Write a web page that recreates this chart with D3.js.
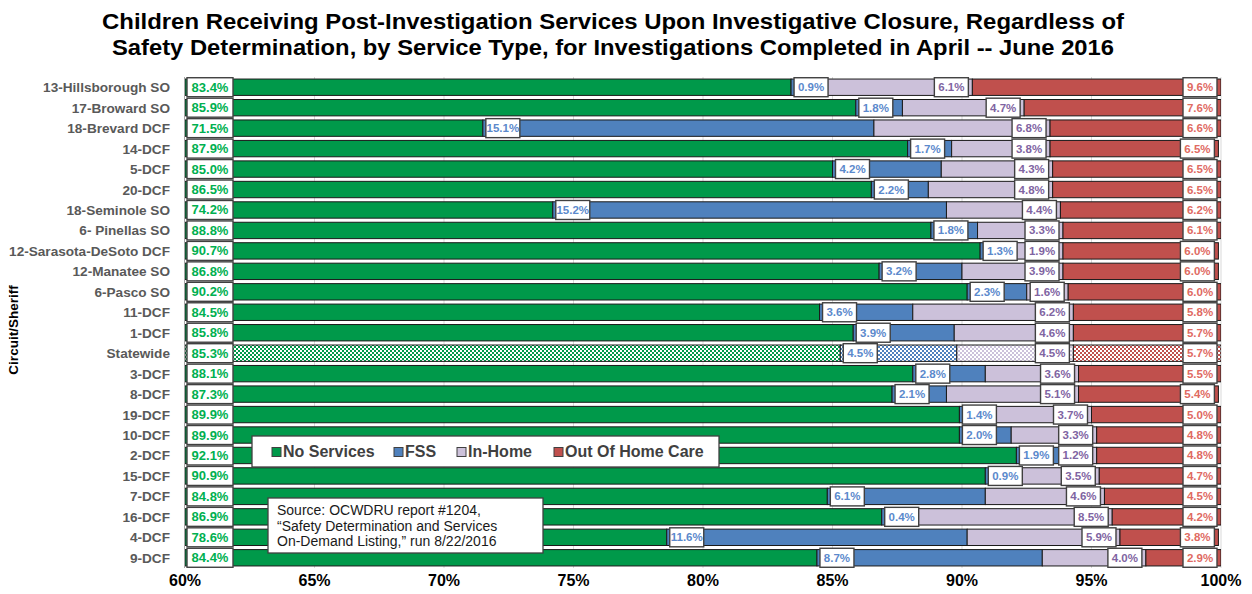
<!DOCTYPE html>
<html>
<head>
	<title>Post-Investigation Services</title>
	<meta charset="utf-8">
	<style type="text/css">
		body { margin: 0; background: #ffffff; }
		text { font-family: "Liberation Sans", Arial, sans-serif; }
	</style>
	<script src="https://d3js.org/d3.v7.min.js"></script>
</head>
<body>
<div class="chart"></div>
<script type="text/javascript">

	// dados
	var categories = ["13-Hillsborough SO", "17-Broward SO", "18-Brevard DCF", "14-DCF", "5-DCF", "20-DCF",
		"18-Seminole SO", "6- Pinellas SO", "12-Sarasota-DeSoto DCF", "12-Manatee SO", "6-Pasco SO", "11-DCF",
		"1-DCF", "Statewide", "3-DCF", "8-DCF", "19-DCF", "10-DCF", "2-DCF", "15-DCF", "7-DCF", "16-DCF",
		"4-DCF", "9-DCF"];
	var noServices = [83.4, 85.9, 71.5, 87.9, 85.0, 86.5, 74.2, 88.8, 90.7, 86.8, 90.2, 84.5,
		85.8, 85.3, 88.1, 87.3, 89.9, 89.9, 92.1, 90.9, 84.8, 86.9, 78.6, 84.4];
	var fss = [0.9, 1.8, 15.1, 1.7, 4.2, 2.2, 15.2, 1.8, 1.3, 3.2, 2.3, 3.6,
		3.9, 4.5, 2.8, 2.1, 1.4, 2.0, 1.9, 0.9, 6.1, 0.4, 11.6, 8.7];
	var inHome = [6.1, 4.7, 6.8, 3.8, 4.3, 4.8, 4.4, 3.3, 1.9, 3.9, 1.6, 6.2,
		4.6, 4.5, 3.6, 5.1, 3.7, 3.3, 1.2, 3.5, 4.6, 8.5, 5.9, 4.0];
	var outOfHome = [9.6, 7.6, 6.6, 6.5, 6.5, 6.5, 6.2, 6.1, 6.0, 6.0, 6.0, 5.8,
		5.7, 5.7, 5.5, 5.4, 5.0, 4.8, 4.8, 4.7, 4.5, 4.2, 3.8, 2.9];
	var seriesNames = ["No Services", "FSS", "In-Home", "Out Of Home Care"];
	var xTicks = [60, 65, 70, 75, 80, 85, 90, 95, 100];
	var patternRow = "Statewide";

	var titleLines = ["Children Receiving Post-Investigation Services Upon Investigative Closure, Regardless of",
		"Safety Determination, by Service Type, for Investigations Completed in April -- June 2016"];
	var sourceLines = ["Source: OCWDRU report #1204,", "\u201CSafety Determination and Services", "On-Demand Listing,\u201D run 8/22/2016"];

	var colors = ["#00994a", "#4f81bd", "#ccc1da", "#c0504d"];
	var labelColors = ["#00b050", "#5b89cc", "#8064a2", "#e06a62"];

	var svgDims = {width: 1252, height: 594};
	var plot = {left: 185, right: 1221, top: 77, bottom: 568};

	var svg = d3.select(".chart")
				.append("svg")
				.attr("width", svgDims.width)
				.attr("height", svgDims.height);

	var x_scale = d3.scaleLinear().domain([60, 100]).range([plot.left, plot.right]);
	var y_scale = d3.scaleBand().domain(categories).range([plot.top, plot.bottom]).paddingInner(0.2).paddingOuter(0.1);

	// padroes xadrez para a linha Statewide
	var defs = svg.append("defs");
	colors.forEach(function(c, i){
		var p = defs.append("pattern")
			.attr("id", "chk" + i)
			.attr("width", 4).attr("height", 4)
			.attr("patternUnits", "userSpaceOnUse");
		p.append("rect").attr("width", 4).attr("height", 4).attr("fill", "#ffffff");
		p.append("rect").attr("width", 2).attr("height", 2).attr("fill", c);
		p.append("rect").attr("x", 2).attr("y", 2).attr("width", 2).attr("height", 2).attr("fill", c);
	});
	defs.append("clipPath").attr("id", "plotClip")
		.append("rect")
		.attr("x", plot.left).attr("y", plot.top - 5)
		.attr("width", plot.right - plot.left).attr("height", plot.bottom - plot.top + 10);

	// titulo
	svg.selectAll(".title")
		.data(titleLines)
		.enter().append("text")
		.attr("class", "title")
		.attr("x", 613)
		.attr("y", function(d, i){ return 29 + i * 26; })
		.attr("text-anchor", "middle")
		.attr("font-size", "22px")
		.attr("font-weight", "bold")
		.attr("textLength", function(d, i){ return i == 0 ? 1022 : 1002; })
		.attr("lengthAdjust", "spacingAndGlyphs")
		.text(function(d){ return d; });

	// grade
	svg.append("g")
		.selectAll("line")
		.data(xTicks.slice(1))
		.enter().append("line")
		.attr("x1", function(d){ return x_scale(d); })
		.attr("x2", function(d){ return x_scale(d); })
		.attr("y1", plot.top)
		.attr("y2", plot.bottom)
		.attr("stroke", "#d9d9d9")
		.attr("stroke-width", 1);

	// juntando series
	var allSeries = [noServices, fss, inHome, outOfHome];
	var rows = categories.map(function(cat, i){
		var acc = 0;
		var segs = allSeries.map(function(s, k){
			var seg = {cat: cat, k: k, v: s[i], x0: acc, x1: acc + s[i]};
			acc += s[i];
			return seg;
		});
		return segs;
	});
	var segments = d3.merge(rows);

	var bars = svg.append("g").attr("clip-path", "url(#plotClip)");
	bars.selectAll("rect")
		.data(segments)
		.enter().append("rect")
		.attr("x", function(d){ return x_scale(Math.max(60, d.x0)); })
		.attr("width", function(d){ return Math.max(0, x_scale(Math.min(100, d.x1)) - x_scale(Math.max(60, d.x0))); })
		.attr("y", function(d){ return y_scale(d.cat); })
		.attr("height", y_scale.bandwidth())
		.attr("fill", function(d){ return d.cat == patternRow ? "url(#chk" + d.k + ")" : colors[d.k]; })
		.attr("stroke", "#1a1a1a")
		.attr("stroke-width", 1);

	// eixo y
	svg.append("line")
		.attr("x1", plot.left - 0.5).attr("x2", plot.left - 0.5)
		.attr("y1", plot.top).attr("y2", plot.bottom)
		.attr("stroke", "#a6a6a6");

	svg.append("g")
		.selectAll("text")
		.data(categories)
		.enter().append("text")
		.attr("x", 170)
		.attr("y", function(d){ return y_scale(d) + y_scale.bandwidth() / 2 + 5; })
		.attr("text-anchor", "end")
		.attr("font-size", "13.6px")
		.attr("font-weight", "bold")
		.attr("fill", "#595959")
		.text(function(d){ return d; });

	svg.append("text")
		.attr("transform", "translate(18,330) rotate(-90)")
		.attr("text-anchor", "middle")
		.attr("font-size", "13.5px")
		.attr("font-weight", "bold")
		.text("Circuit/Sheriff");

	// eixo x
	svg.append("g")
		.selectAll("text")
		.data(xTicks)
		.enter().append("text")
		.attr("x", function(d){ return x_scale(d); })
		.attr("y", 586)
		.attr("text-anchor", "middle")
		.attr("font-size", "16px")
		.attr("font-weight", "bold")
		.text(function(d){ return d + "%"; });

	// rotulos
	var fmt = d3.format(".1f");
	var labels = svg.append("g");
	[0, 1, 2, 3].forEach(function(k){
		var segs = segments.filter(function(d){ return d.k == k; });
		var w = k == 0 ? 46 : 34;
		var g = labels.selectAll(".lab" + k)
			.data(segs)
			.enter().append("g")
			.attr("class", "lab" + k)
			.attr("transform", function(d){
				var lx;
				if (k == 0) lx = plot.left + 2;
				else if (k == 1) lx = x_scale(d.x0) + 3;
				else lx = x_scale(Math.min(100, d.x1)) - 4 - w;
				var ly = y_scale(d.cat) + y_scale.bandwidth() / 2 - 9.5;
				return "translate(" + lx + "," + ly + ")";
			});
		g.append("rect")
			.attr("width", w)
			.attr("height", 19)
			.attr("fill", "#ffffff")
			.attr("stroke", "#404040")
			.attr("stroke-width", 1.4);
		g.append("text")
			.attr("x", w / 2)
			.attr("y", k == 0 ? 14 : 13.5)
			.attr("text-anchor", "middle")
			.attr("font-size", k == 0 ? "13px" : "11.5px")
			.attr("font-weight", "bold")
			.attr("fill", labelColors[k])
			.text(function(d){ return fmt(d.v) + "%"; });
	});

	// legenda
	var legend = svg.append("g").attr("transform", "translate(252,436)");
	legend.append("rect")
		.attr("width", 467).attr("height", 31)
		.attr("fill", "#ffffff").attr("stroke", "#404040").attr("stroke-width", 1.3);
	var legX = [20, 142, 205, 302];
	var li = legend.selectAll(".li")
		.data(seriesNames)
		.enter().append("g")
		.attr("transform", function(d, i){ return "translate(" + legX[i] + ",0)"; });
	li.append("rect")
		.attr("x", 0).attr("y", 11.5)
		.attr("width", 9).attr("height", 9)
		.attr("fill", function(d, i){ return colors[i]; })
		.attr("stroke", "#404040");
	li.append("text")
		.attr("x", 11).attr("y", 21)
		.attr("font-size", "16px")
		.attr("font-weight", "bold")
		.attr("fill", "#404040")
		.text(function(d){ return d; });

	// fonte
	var src = svg.append("g").attr("transform", "translate(268,498)");
	src.append("rect")
		.attr("width", 275).attr("height", 55)
		.attr("fill", "#ffffff").attr("stroke", "#404040").attr("stroke-width", 1.3);
	src.selectAll("text")
		.data(sourceLines)
		.enter().append("text")
		.attr("x", 9)
		.attr("y", function(d, i){ return 17 + i * 15.5; })
		.attr("font-size", "14px")
		.attr("fill", "#1a1a1a")
		.text(function(d){ return d; });

</script>
</body>
</html>
